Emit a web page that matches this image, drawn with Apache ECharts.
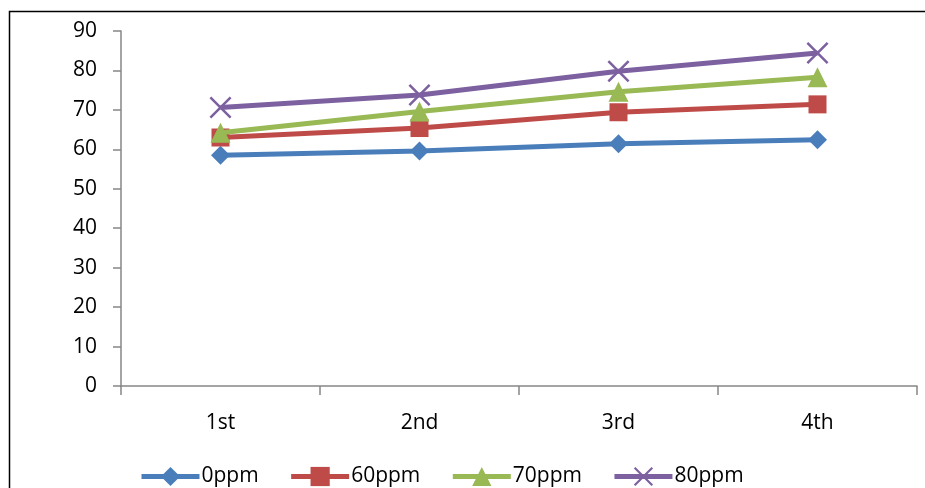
<!DOCTYPE html>
<html><head><meta charset="utf-8">
<script src="https://cdn.jsdelivr.net/npm/echarts@6/dist/echarts.min.js"></script>
<style>html,body{margin:0;padding:0;background:#fff}#c{width:925px;height:488px}</style>
</head><body><div id="c"></div>
<script>
const categories = ['1st', '2nd', '3rd', '4th'];
const seriesNames = ['0ppm', '60ppm', '70ppm', '80ppm'];
const s0ppm = [58.5, 59.6, 61.4, 62.4];
const s60ppm = [63.0, 65.4, 69.4, 71.4];
const s70ppm = [64.2, 69.6, 74.6, 78.3];
const s80ppm = [70.6, 73.8, 79.8, 84.4];
const yTicks = [0, 10, 20, 30, 40, 50, 60, 70, 80, 90];

const colors = ['#4A7EBB', '#BE4B48', '#98B954', '#7D60A0'];
const crossPath = 'path://M0,0.8L0.8,0L5,4.2L9.2,0L10,0.8L5.8,5L10,9.2L9.2,10L5,5.8L0.8,10L0,9.2L4.2,5Z';
const symbols = ['diamond', 'rect', 'triangle', crossPath];
const sizes = [19, 18, 20, 22];
const dataArr = [s0ppm, s60ppm, s70ppm, s80ppm];
const font = 'Open Sans';

const chart = echarts.init(document.getElementById('c'), null, {renderer: 'canvas'});
chart.setOption({
  animation: false,
  color: colors,
  graphic: [{
    type: 'polyline', silent: true,
    shape: {points: [[9.5, 500], [9.5, 11.5], [925, 11.5]]},
    style: {stroke: '#000', lineWidth: 1.5, fill: null}
  }],
  grid: {left: 121, right: 8, top: 31, bottom: 102, containLabel: false},
  legend: {
    bottom: -4, left: 134, itemGap: 30,
    itemWidth: 58, itemHeight: 24,
    lineStyle: {width: 5},
    textStyle: {fontFamily: font, fontSize: 21, color: '#000', padding: [0, 0, 0, -3]},
    data: seriesNames
  },
  xAxis: {
    type: 'category', data: categories, boundaryGap: true,
    axisLine: {lineStyle: {color: '#868686', width: 1.5}},
    axisTick: {show: true, length: 9, alignWithLabel: false, lineStyle: {color: '#868686', width: 1.5}},
    axisLabel: {fontFamily: font, fontSize: 21, color: '#000', margin: 27},
    splitLine: {show: false}
  },
  yAxis: {
    type: 'value', min: yTicks[0], max: yTicks[yTicks.length - 1], interval: 10,
    axisLine: {show: true, lineStyle: {color: '#868686', width: 1.5}},
    axisTick: {show: true, length: 8, lineStyle: {color: '#868686', width: 1.5}},
    axisLabel: {fontFamily: font, fontSize: 21, color: '#000', margin: 24},
    splitLine: {show: false}
  },
  series: dataArr.map((d, i) => ({
    name: seriesNames[i], type: 'line', data: d,
    symbol: symbols[i], symbolSize: sizes[i], symbolKeepAspect: true,
    showAllSymbol: true,
    lineStyle: {width: 5, color: colors[i]},
    itemStyle: {color: colors[i], borderWidth: 0},
    z: 2 + i
  }))
});
</script></body></html>
